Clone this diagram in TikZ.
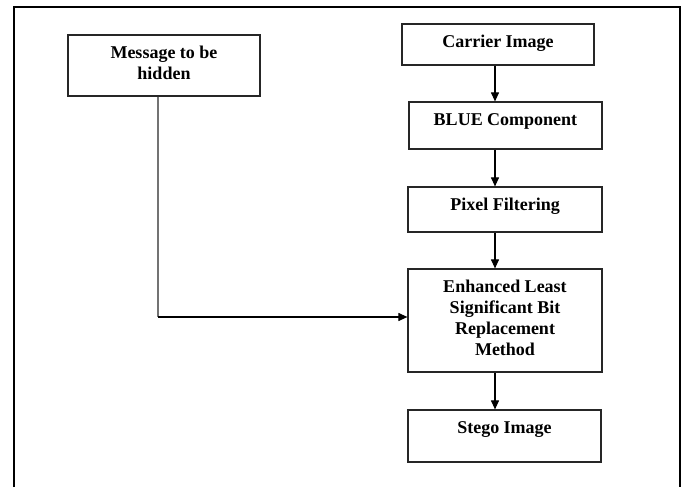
\documentclass[tikz,border=0pt]{standalone}
\usepackage{fontspec}
\setmainfont{Liberation Serif}
\usetikzlibrary{arrows.meta}
\newcommand{\boxtext}[3]{\parbox[c][#2][t]{#1}{\centering\vspace*{11.5pt}#3\par}}
\tikzset{
  stepbox/.style={draw=black!85, line width=1.2pt, inner sep=0pt, rectangle,
    font=\fontsize{18}{21}\selectfont\bfseries},
  arr/.style={-{Triangle[length=9pt,width=8pt]}, line width=1.1pt, black},
  feed/.style={line width=1.3pt, black!55},
  frame/.style={line width=2.6pt, black}
}
\begin{document}
\begin{tikzpicture}[x=1pt,y=-1pt]
\useasboundingbox (0,0) rectangle (685,487);
\draw[frame] (14,487) -- (14,7) -- (680,7) -- (680,487);
\node[stepbox] (msg) at (164,65.5) {\boxtext{192pt}{61pt}{Message to be\\hidden}};
\node[stepbox] (car) at (498,44.5) {\boxtext{192pt}{41pt}{Carrier Image}};
\node[stepbox] (blue) at (505.5,125.5) {\boxtext{193pt}{47pt}{BLUE Component}};
\node[stepbox] (pix) at (505,209.5) {\boxtext{194pt}{45pt}{Pixel Filtering}};
\node[stepbox] (elsb) at (505,320.5) {\boxtext{194pt}{103pt}{Enhanced Least\\Significant Bit\\Replacement\\Method}};
\node[stepbox] (stego) at (504.5,436) {\boxtext{193pt}{52pt}{Stego Image}};
\coordinate (ax) at (495,0);
\coordinate (mx) at (158,0);
\coordinate (corner) at (158,317);
\draw[arr] (car.south -| ax) -- (blue.north -| ax);
\draw[arr] (blue.south -| ax) -- (pix.north -| ax);
\draw[arr] (pix.south -| ax) -- (elsb.north -| ax);
\draw[arr] (elsb.south -| ax) -- (stego.north -| ax);
\draw[feed] (msg.south -| mx) -- (corner);
\draw[arr] (corner) -- (elsb.west |- corner);
\end{tikzpicture}
\end{document}
